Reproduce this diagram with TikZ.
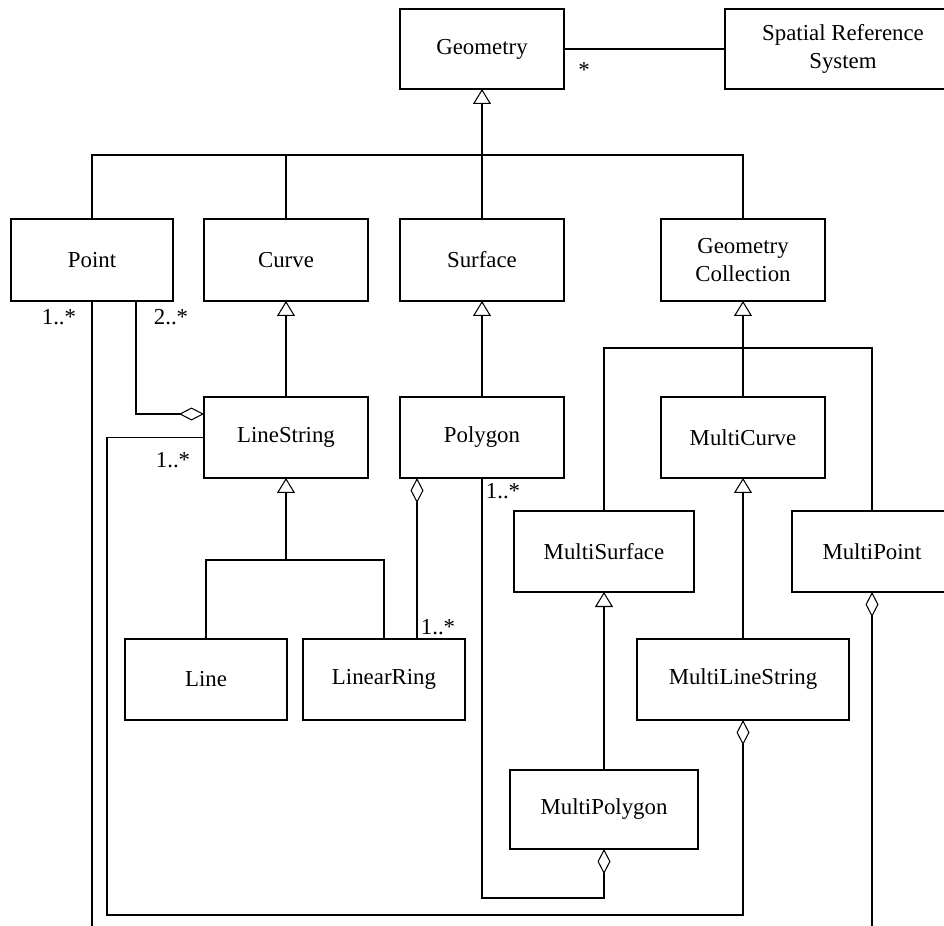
\documentclass[tikz,border=0pt]{standalone}
\usepackage{fontspec}
\setmainfont{Liberation Serif}
\usetikzlibrary{arrows.meta,calc}
\begin{document}
\begin{tikzpicture}[x=0.02cm,y=-0.02cm,
  wd/.style={minimum width=#1*0.02cm},
  ht/.style={minimum height=#1*0.02cm},
  cls/.style={draw, line width=0.6pt, inner sep=0pt, outer sep=0pt, align=center,
    font=\fontsize{13}{16}\selectfont},
  mult/.style={inner sep=0pt, font=\fontsize{13}{15}\selectfont},
  conn/.style={line width=0.6pt},
  gen/.style={conn, {Triangle[open,length=0.3cm,width=0.36cm]}-},
  aggend/.style={conn, -{Diamond[open,length=0.5cm,width=0.26cm]}},
  aggstart/.style={conn, {Diamond[open,length=0.5cm,width=0.26cm]}-},
]
\clip (0,0) rectangle (944,926);

% classes
\node[cls,wd=164,ht=80] (geom) at (482,49) {Geometry};
\node[cls,wd=236,ht=80] (srs) at (843,49) {Spatial Reference\\System};
\node[cls,wd=162,ht=82] (point) at (92,260) {Point};
\node[cls,wd=164,ht=82] (curve) at (286,260) {Curve};
\node[cls,wd=164,ht=82] (surface) at (482,260) {Surface};
\node[cls,wd=164,ht=82] (gc) at (743,260) {Geometry\\Collection};
\node[cls,wd=164,ht=81] (ls) at (286,437.5) {LineString};
\node[cls,wd=164,ht=81] (poly) at (482,437.5) {Polygon};
\node[cls,wd=164,ht=81] (mc) at (743,437.5) {MultiCurve};
\node[cls,wd=180,ht=81] (ms) at (604,551.5) {MultiSurface};
\node[cls,wd=160,ht=81] (mp) at (872,551.5) {MultiPoint};
\node[cls,wd=162,ht=81] (line) at (206,679.5) {Line};
\node[cls,wd=162,ht=81] (lr) at (384,679.5) {LinearRing};
\node[cls,wd=212,ht=81] (mls) at (743,679.5) {MultiLineString};
\node[cls,wd=188,ht=79] (mpoly) at (604,809.5) {MultiPolygon};

% helper points for buses and routed links
\coordinate (gbus) at (482,155);
\coordinate (gcbus) at (743,348);
\coordinate (lsbus) at (286,560);
\coordinate (bottom) at (0,932);
\coordinate (ptagg) at ($(point.south)+(44,0)$);
\coordinate (lsagg) at ($(ls.north west)+(0,17)$);
\coordinate (lsloop) at (107,915);
\coordinate (polyloop) at (482,898);
\coordinate (lragg) at ($(poly.south west)+(17,0)$);

% association
\draw[conn] (geom.east) -- (srs.west);

% generalizations
\draw[gen] (geom.south) -- (surface.north);
\draw[conn] (point.north) |- (gbus) -| (gc.north);
\draw[conn] (curve.north) -- (curve.north |- gbus);
\draw[gen] (curve.south) -- (ls.north);
\draw[gen] (surface.south) -- (poly.north);
\draw[gen] (gc.south) -- (mc.north);
\draw[conn] (ms.north) |- (gcbus) -| (mp.north);
\draw[gen] (ls.south) -- (lsbus);
\draw[conn] (line.north) |- (lsbus) -| (lr.north);
\draw[gen] (mc.south) -- (mls.north);
\draw[gen] (ms.south) -- (mpoly.north);

% aggregations
\draw[aggend] (ptagg) |- (lsagg);
\draw[conn] (point.south) -- (point.south |- bottom);
\draw[aggend] (ls.west) -| (lsloop) -| (mls.south);
\draw[aggend] (poly.south) -- (polyloop) -| (mpoly.south);
\draw[aggstart] (lragg) -- (lragg |- lr.north);
\draw[aggstart] (mp.south) -- (mp.south |- bottom);

% multiplicities
\node[mult] (mgeom) at (584,70) {*};
\node[mult] (mpt1) at (59,317) {1..*};
\node[mult] (mpt2) at (171,317) {2..*};
\node[mult] (mls1) at (173,460) {1..*};
\node[mult] (mpoly1) at (503,491) {1..*};
\node[mult] (mlr1) at (438,627) {1..*};
\end{tikzpicture}
\end{document}
